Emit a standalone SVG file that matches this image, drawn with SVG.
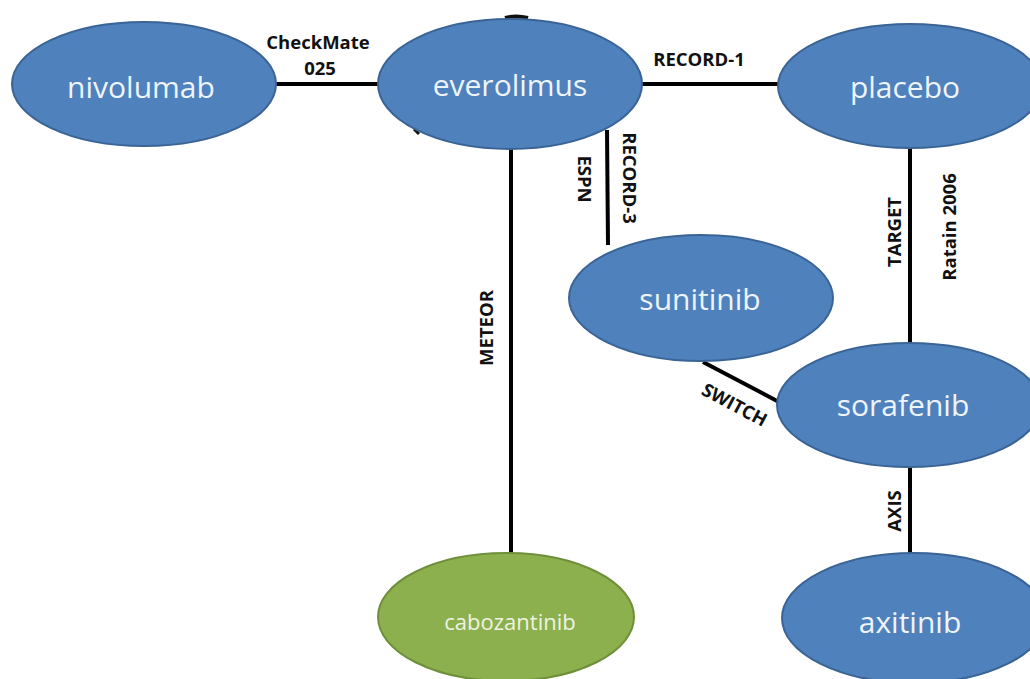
<svg xmlns="http://www.w3.org/2000/svg" width="1030" height="679" viewBox="0 0 1030 679">
  <style>
    .node { fill: #4f81bd; stroke: #3a6496; stroke-width: 2; }
    .node.green { fill: #8db04e; stroke: #6f8f3a; }
    .name { font-family: "Open Sans", "Liberation Sans", sans-serif; font-size: 30px; fill: #eef4fb; text-anchor: middle; dominant-baseline: central; }
    .name.small { font-size: 22px; fill: #eef3e2; }
    .edge { stroke: #000; stroke-width: 4; fill: none; }
    .lbl { font-family: "Open Sans", "Liberation Sans", sans-serif; font-size: 18.5px; font-weight: bold; fill: #111; text-anchor: middle; dominant-baseline: central; }
  </style>

  <rect width="1030" height="679" fill="#fff"/>

  <g id="connectors">
    <line class="edge" x1="274" y1="84" x2="380" y2="84"/>
    <line class="edge" x1="641" y1="84" x2="780" y2="84"/>
    <line class="edge" x1="607" y1="130" x2="608" y2="245"/>
    <line class="edge" x1="511" y1="148" x2="511" y2="555"/>
    <line class="edge" x1="910" y1="148" x2="910" y2="343"/>
    <line class="edge" x1="703" y1="362" x2="779" y2="402"/>
    <line class="edge" x1="910" y1="466" x2="910" y2="555"/>
    <path d="M505 18 Q516 15 528 18" stroke="#111" stroke-width="4" fill="none"/>
    <line x1="414" y1="129" x2="419" y2="134" stroke="#111" stroke-width="3"/>
    <text class="lbl" x="318" y="41">CheckMate</text>
    <text class="lbl" x="320" y="67">025</text>
    <text class="lbl" x="699" y="58">RECORD-1</text>
    <text class="lbl" transform="translate(585 179) rotate(90)">ESPN</text>
    <text class="lbl" transform="translate(630 178) rotate(90)">RECORD-3</text>
    <text class="lbl" transform="translate(485 328) rotate(-90)">METEOR</text>
    <text class="lbl" transform="translate(893 232) rotate(-90)">TARGET</text>
    <text class="lbl" transform="translate(948 227) rotate(-90)">Ratain 2006</text>
    <text class="lbl" transform="translate(735 404) rotate(28)">SWITCH</text>
    <text class="lbl" transform="translate(893 511) rotate(-90)">AXIS</text>
  </g>

  <g id="nivolumab">
    <ellipse class="node" cx="144" cy="84" rx="132" ry="62"/>
    <text class="name" x="141" y="86">nivolumab</text>
  </g>
  <g id="everolimus">
    <ellipse class="node" cx="510" cy="84" rx="132" ry="65"/>
    <text class="name" x="510" y="84">everolimus</text>
  </g>
  <g id="placebo">
    <ellipse class="node" cx="910" cy="86" rx="132" ry="62"/>
    <text class="name" x="905" y="86">placebo</text>
  </g>
  <g id="sunitinib">
    <ellipse class="node" cx="701" cy="298" rx="132" ry="63"/>
    <text class="name" x="700" y="298">sunitinib</text>
  </g>
  <g id="sorafenib">
    <ellipse class="node" cx="909" cy="405" rx="132" ry="62"/>
    <text class="name" x="903" y="404">sorafenib</text>
  </g>
  <g id="cabozantinib">
    <ellipse class="node green" cx="506" cy="617" rx="128" ry="64"/>
    <text class="name small" x="510" y="621">cabozantinib</text>
  </g>
  <g id="axitinib">
    <ellipse class="node" cx="914" cy="618" rx="132" ry="65"/>
    <text class="name" x="910" y="621">axitinib</text>
  </g>
</svg>
